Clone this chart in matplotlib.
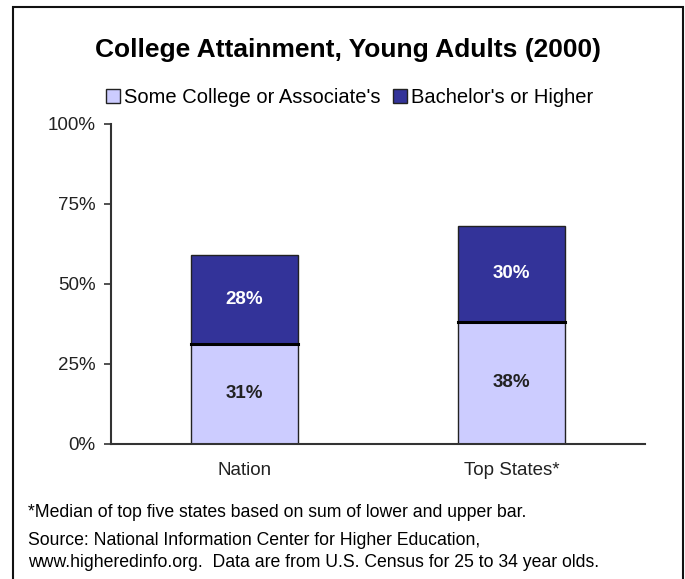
import matplotlib
matplotlib.use('Agg')
import matplotlib.pyplot as plt
from matplotlib.patches import Rectangle

# 数据
categories = ['Nation', 'Top States*']
some_college = [31, 38]
bachelor = [28, 30]
series_names = ["Some College or Associate's", "Bachelor's or Higher"]
yticks = [0, 25, 50, 75, 100]
title = 'College Attainment, Young Adults (2000)'
notes = ['*Median of top five states based on sum of lower and upper bar.',
         'Source: National Information Center for Higher Education,',
         'www.higheredinfo.org.  Data are from U.S. Census for 25 to 34 year olds.']

c_low = '#CCCCFF'
c_high = '#333399'

plt.rcParams['font.family'] = ['Liberation Sans', 'DejaVu Sans']

fig = plt.figure(figsize=(6.85, 5.79), dpi=100)
ax = fig.add_axes([0.162, 0.234, 0.7796, 0.5527])

x = list(range(len(categories)))
b1 = ax.bar(x, some_college, width=0.40, color=c_low, edgecolor='#222222', linewidth=1.0,
            label=series_names[0])
b2 = ax.bar(x, bachelor, width=0.40, bottom=some_college, color=c_high, edgecolor='#222222',
            linewidth=1.0, label=series_names[1])
# 分界线加粗
for i in x:
    ax.plot([i - 0.2, i + 0.2], [some_college[i], some_college[i]], color='black', lw=2.2)

for i in x:
    ax.text(i, some_college[i] / 2, '%d%%' % some_college[i], ha='center', va='center',
            fontsize=13.5, fontweight='bold', color='#222222')
    ax.text(i, some_college[i] + bachelor[i] / 2, '%d%%' % bachelor[i], ha='center', va='center',
            fontsize=13.5, fontweight='bold', color='white')

ax.set_xlim(-0.5, 1.5)
ax.set_ylim(0, 100)
ax.set_yticks(yticks)
ax.set_yticklabels(['%d%%' % t for t in yticks], fontsize=13.5, color='#222222')
ax.set_xticks(x)
ax.set_xticklabels(categories, fontsize=13.5, color='#222222')
ax.tick_params(axis='x', length=0, pad=13)
ax.tick_params(axis='y', length=5, width=1.2, color='#333333', pad=6)
for s in ['top', 'right']:
    ax.spines[s].set_visible(False)
for s in ['left', 'bottom']:
    ax.spines[s].set_color('#333333')
    ax.spines[s].set_linewidth(1.5)

fig.text(0.508, 0.913, title, ha='center', va='center', fontsize=19, fontweight='bold')
fig.legend(handles=[b1, b2], loc='center', bbox_to_anchor=(0.51, 0.832), ncol=2, frameon=False,
           fontsize=14.5, handlelength=0.7, handleheight=0.7, handletextpad=0.2, columnspacing=0.6)

ys = [0.114, 0.067, 0.029]
for t, yy in zip(notes, ys):
    fig.text(0.041, yy, t, ha='left', va='center', fontsize=12.7)

# 外框
fig.patches.append(Rectangle((0.019, -0.05), 0.978, 1.038, transform=fig.transFigure,
                             fill=False, edgecolor='#111111', linewidth=1.5))

fig.savefig('out.png', dpi=100)
